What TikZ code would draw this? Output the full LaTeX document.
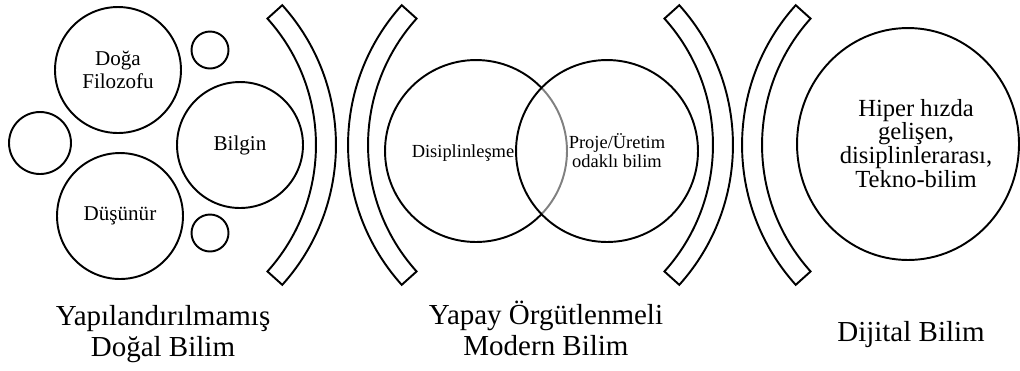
\documentclass[tikz,border=0pt]{standalone}
\usepackage{fontspec}
\setmainfont{Liberation Serif}
\usetikzlibrary{positioning,shapes.geometric,calc}

\begin{document}
\begin{tikzpicture}[
    x=0.02cm, y=-0.02cm,
    line width=1.1pt,
    big_circ/.style={draw, circle, inner sep=0pt, minimum size=2.52cm, align=center, font=\fontsize{12}{13}\selectfont},
    small_circ/.style={draw, circle, inner sep=0pt},
    venn_circ/.style={draw, circle, inner sep=0pt, minimum size=3.64cm},
    venn_text/.style={align=center, anchor=base, inner sep=0pt, font=\fontsize{10.5}{10.8}\selectfont},
    era_label/.style={align=center, anchor=base, inner sep=0pt, font=\fontsize{16.5}{17.6}\selectfont}
]
\useasboundingbox (0,0) rectangle (1020,370);

\node (doga)    [big_circ] at (118,70)  {Doğa\\Filozofu};
\node (bilgin)  [big_circ] at (240,145) {Bilgin};
\node (dusunur) [big_circ] at (120,216) {Düşünür};
\node (kucuk1)  [small_circ, minimum size=0.74cm] at (210,50)  {};
\node (kucuk2)  [small_circ, minimum size=1.24cm] at (40,143)  {};
\node (kucuk3)  [small_circ, minimum size=0.74cm] at (210,233) {};

\coordinate (par1) at (127,145);
\coordinate (par2) at (557,145);
\coordinate (par3) at (524,145);
\coordinate (par4) at (951,145);
\foreach \p/\a in {par1/0, par2/180, par3/0, par4/180}
    \draw ($(\p)+({\a+42}:3.78cm)$) arc[start angle=\a+42, end angle=\a-42, radius=3.78cm]
        -- ($(\p)+({\a-42}:4.18cm)$) arc[start angle=\a-42, end angle=\a+42, radius=4.18cm] -- cycle;

\node (disiplin) [venn_circ] at (476,151) {};
\node (proje)    [venn_circ, fill=white, fill opacity=0.5] at (607,151) {};
\node (disiplin_txt) [venn_text] at (463,157) {Disiplinleşme};
\node (proje_txt)    [venn_text] at (617,167) {Proje/Üretim\\odaklı bilim};

\node (tekno) [draw, ellipse, inner sep=0pt, minimum width=4.44cm, minimum height=4.64cm] at (908,144) {};
\node (tekno_txt) [align=center, anchor=base, inner sep=0pt, font=\fontsize{14}{13.4}\selectfont] at (916,187)
    {Hiper hızda\\gelişen,\\disiplinlerarası,\\Tekno-bilim};

\node (etiket1) [era_label] at (163,356) {Yapılandırılmamış\\Doğal Bilim};
\node (etiket2) [era_label] at (546,355) {Yapay Örgütlenmeli\\Modern Bilim};
\node (etiket3) [era_label] at (911,341) {Dijital Bilim};

\end{tikzpicture}
\end{document}
